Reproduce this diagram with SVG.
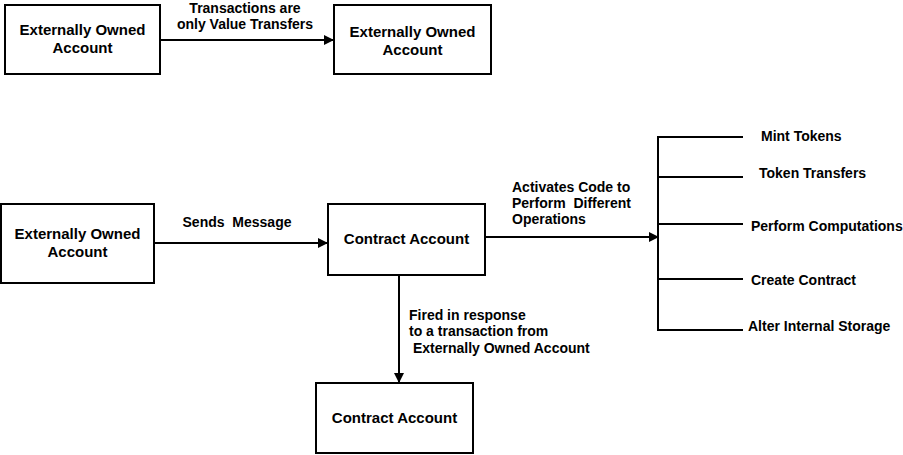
<svg xmlns="http://www.w3.org/2000/svg" width="903" height="455" viewBox="0 0 903 455">
<style>
.box{fill:#fff;stroke:#000;stroke-width:2}
.n{font-family:"Liberation Sans",Arial,sans-serif;font-weight:bold;font-size:15px;fill:#000;text-anchor:middle}
.l{font-family:"Liberation Sans",Arial,sans-serif;font-weight:bold;font-size:14px;fill:#000;white-space:pre}
.c{text-anchor:middle}
.ln{stroke:#000;stroke-width:2;fill:none}
</style>
<defs>
<marker id="ah" markerWidth="10" markerHeight="10" refX="9" refY="5" orient="auto" markerUnits="userSpaceOnUse">
<path d="M0,0 L10,5 L0,10 Z" fill="#000"/>
</marker>
</defs>
<g id="connectors">
<line class="ln" x1="160" y1="40" x2="333" y2="40" marker-end="url(#ah)"/>
<line class="ln" x1="154" y1="243" x2="327" y2="243" marker-end="url(#ah)"/>
<line class="ln" x1="485" y1="237" x2="658" y2="237" marker-end="url(#ah)"/>
<line class="ln" x1="399" y1="275" x2="399" y2="382" marker-end="url(#ah)"/>
<path class="ln" d="M743,137 H658 V330 H743 M658,177 H743 M658,224 H743 M658,279 H743"/>
<text class="l c" x="245" y="13" xml:space="preserve">Transactions are</text>
<text class="l c" x="245" y="29" xml:space="preserve">only Value Transfers</text>
<text class="l c" x="237" y="227" xml:space="preserve">Sends  Message</text>
<text class="l" x="512" y="192" xml:space="preserve">Activates Code to</text>
<text class="l" x="512" y="208" xml:space="preserve">Perform  Different</text>
<text class="l" x="512" y="224" xml:space="preserve">Operations</text>
<text class="l" x="409" y="320" xml:space="preserve">Fired in response</text>
<text class="l" x="409" y="336" xml:space="preserve">to a transaction from</text>
<text class="l" x="409" y="353" xml:space="preserve"> Externally Owned Account</text>
<text class="l" x="761" y="141" xml:space="preserve">Mint Tokens</text>
<text class="l" x="759" y="178" xml:space="preserve">Token Transfers</text>
<text class="l" x="751" y="231" xml:space="preserve">Perform Computations</text>
<text class="l" x="751" y="285" xml:space="preserve">Create Contract</text>
<text class="l" x="748" y="331" xml:space="preserve">Alter Internal Storage</text>
</g>
<g id="eoa1">
<rect class="box" x="5" y="5" width="155" height="69"/>
<text class="n" x="82.5" y="35">Externally Owned</text>
<text class="n" x="82.5" y="53">Account</text>
</g>
<g id="eoa2">
<rect class="box" x="334" y="5" width="157" height="69"/>
<text class="n" x="412.5" y="37">Externally Owned</text>
<text class="n" x="412.5" y="55">Account</text>
</g>
<g id="eoa3">
<rect class="box" x="1" y="204" width="153" height="79"/>
<text class="n" x="77.5" y="239">Externally Owned</text>
<text class="n" x="77.5" y="257">Account</text>
</g>
<g id="contract1">
<rect class="box" x="328" y="204" width="157" height="71"/>
<text class="n" x="406.5" y="244">Contract Account</text>
</g>
<g id="contract2">
<rect class="box" x="316" y="383" width="157" height="70"/>
<text class="n" x="394.5" y="423">Contract Account</text>
</g>
</svg>
